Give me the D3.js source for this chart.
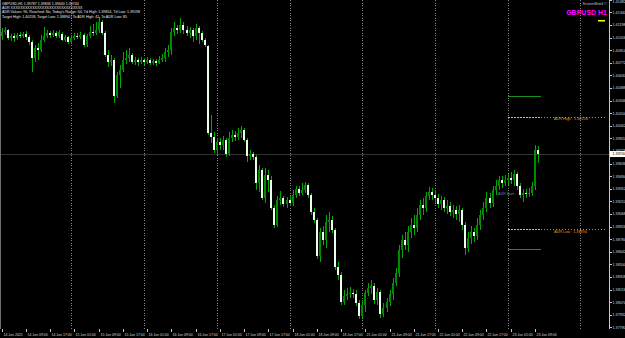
<!DOCTYPE html>
<html><head><meta charset="utf-8">
<script src="https://cdn.jsdelivr.net/npm/d3@7"></script>
<style>
html,body{margin:0;padding:0;background:#000;overflow:hidden}
svg{display:block}
text{font-family:"Liberation Sans",Arial,sans-serif}
</style>
</head><body>
<svg id="chart" width="625" height="338"></svg>
<script>
// ---------------- DATA ----------------
const symbolTitle = "GBPUSD H1";
const shotLabel = "ScreenShot4 \u00A9";
const headerLines = [
  "GBPUSD,H1  1.39787 1.39836 1.39640 1.39744",
  "ADR XXXXXXXXXXXXXXXXXXXXXXXXXXXXXX",
  "ADR Values: 96, Reached: No, Today's Range: 64, Td High: 1.39854, Td Low: 1.39198",
  "Target High: 1.40158, Target Low: 1.38894 | To ADR High: 41, To ADR Low: 85"
];
const firstBarUTC = [2021, 5, 14, 1];   // 14 Jun 2021 01:00
// open, high, low, close (hourly bars)
const ohlc = [
[1.4107,1.4116,1.4103,1.4112],[1.4112,1.4118,1.4109,1.4114],[1.4114,1.4115,1.4103,1.4105],[1.4105,1.4110,1.4102,1.4107],
[1.4107,1.4111,1.4101,1.4105],[1.4105,1.4111,1.4103,1.4109],[1.4109,1.4112,1.4105,1.4107],[1.4107,1.4112,1.4105,1.4110],
[1.4110,1.4113,1.4103,1.4106],[1.4106,1.4109,1.4097,1.4101],[1.4101,1.4103,1.4067,1.4083],[1.4083,1.4097,1.4078,1.4094],
[1.4094,1.4100,1.4080,1.4092],[1.4092,1.4109,1.4089,1.4103],[1.4103,1.4118,1.4101,1.4107],[1.4107,1.4114,1.4105,1.4111],
[1.4111,1.4113,1.4105,1.4109],[1.4109,1.4114,1.4106,1.4111],[1.4111,1.4113,1.4105,1.4107],[1.4107,1.4114,1.4105,1.4112],
[1.4110,1.4112,1.4102,1.4103],[1.4103,1.4109,1.4101,1.4106],[1.4106,1.4107,1.4098,1.4101],
[1.4101,1.4109,1.4098,1.4105],[1.4105,1.4111,1.4103,1.4107],[1.4107,1.4111,1.4104,1.4106],[1.4106,1.4112,1.4104,1.4109],
[1.4109,1.4111,1.4095,1.4097],[1.4097,1.4110,1.4095,1.4107],[1.4107,1.4119,1.4105,1.4112],[1.4112,1.4121,1.4107,1.4111],
[1.4111,1.4123,1.4109,1.4114],[1.4114,1.4129,1.4111,1.4123],[1.4123,1.4125,1.4109,1.4111],[1.4111,1.4113,1.4084,1.4086],
[1.4086,1.4092,1.4072,1.4078],[1.4078,1.4086,1.4074,1.4080],[1.4080,1.4083,1.4032,1.4040],[1.4040,1.4067,1.4038,1.4063],
[1.4063,1.4075,1.4049,1.4069],[1.4069,1.4089,1.4067,1.4080],[1.4080,1.4092,1.4076,1.4083],[1.4083,1.4094,1.4078,1.4086],
[1.4086,1.4088,1.4076,1.4078],[1.4078,1.4084,1.4075,1.4080],[1.4080,1.4083,1.4074,1.4078],[1.4078,1.4084,1.4076,1.4080],
[1.4080,1.4083,1.4075,1.4078],[1.4078,1.4084,1.4076,1.4080],[1.4080,1.4083,1.4075,1.4077],[1.4077,1.4082,1.4075,1.4079],
[1.4079,1.4082,1.4074,1.4077],[1.4077,1.4085,1.4076,1.4080],[1.4080,1.4087,1.4078,1.4083],[1.4083,1.4094,1.4078,1.4089],
[1.4089,1.4097,1.4084,1.4092],[1.4092,1.4116,1.4086,1.4112],[1.4112,1.4123,1.4107,1.4116],[1.4116,1.4120,1.4110,1.4114],
[1.4114,1.4128,1.4111,1.4120],[1.4120,1.4123,1.4110,1.4114],[1.4114,1.4119,1.4107,1.4111],[1.4111,1.4118,1.4105,1.4114],
[1.4114,1.4116,1.4101,1.4107],[1.4107,1.4121,1.4103,1.4116],[1.4116,1.4119,1.4098,1.4111],[1.4111,1.4113,1.4101,1.4103],
[1.4103,1.4105,1.4095,1.4097],[1.4096,1.4097,1.3996,1.3998],[1.3998,1.4018,1.3987,1.3994],[1.3994,1.3999,1.3976,1.3979],
[1.3979,1.3992,1.3973,1.3988],[1.3988,1.3992,1.3979,1.3985],[1.3985,1.3995,1.3979,1.3990],[1.3990,1.3992,1.3971,1.3974],
[1.3974,1.3999,1.3972,1.3992],[1.3992,1.4001,1.3988,1.3996],[1.3996,1.4000,1.3989,1.3994],[1.3994,1.4004,1.3990,1.3998],
[1.3998,1.4006,1.3992,1.4001],[1.4001,1.4004,1.3988,1.3990],[1.3990,1.3992,1.3965,1.3972],[1.3972,1.3979,1.3968,1.3974],
[1.3974,1.3977,1.3968,1.3971],[1.3971,1.3973,1.3934,1.3942],[1.3942,1.3962,1.3932,1.3956],[1.3956,1.3959,1.3923,1.3925],
[1.3925,1.3959,1.3919,1.3951],[1.3951,1.3956,1.3932,1.3945],[1.3945,1.3950,1.3911,1.3914],[1.3914,1.3917,1.3891,1.3894],
[1.3894,1.3927,1.3892,1.3923],[1.3923,1.3933,1.3917,1.3925],[1.3925,1.3927,1.3915,1.3918],[1.3918,1.3926,1.3914,1.3923],
[1.3923,1.3927,1.3916,1.3919],[1.3919,1.3934,1.3916,1.3928],[1.3928,1.3938,1.3925,1.3935],[1.3935,1.3938,1.3927,1.3930],
[1.3930,1.3942,1.3928,1.3934],[1.3934,1.3943,1.3930,1.3940],[1.3940,1.3942,1.3925,1.3928],[1.3928,1.3930,1.3906,1.3909],
[1.3909,1.3914,1.3897,1.3900],[1.3900,1.3902,1.3856,1.3860],[1.3860,1.3891,1.3853,1.3887],[1.3887,1.3893,1.3872,1.3878],
[1.3878,1.3906,1.3869,1.3898],[1.3898,1.3909,1.3887,1.3900],[1.3900,1.3905,1.3885,1.3889],[1.3889,1.3891,1.3844,1.3847],
[1.3847,1.3853,1.3832,1.3838],[1.3838,1.3841,1.3804,1.3808],[1.3808,1.3821,1.3804,1.3814],[1.3814,1.3823,1.3810,1.3817],
[1.3817,1.3825,1.3812,1.3818],[1.3818,1.3822,1.3812,1.3817],[1.3817,1.3821,1.3803,1.3807],[1.3807,1.3810,1.3789,1.3792],
[1.3792,1.3810,1.3790,1.3804],[1.3804,1.3821,1.3796,1.3818],[1.3818,1.3829,1.3814,1.3823],[1.3823,1.3832,1.3817,1.3826],
[1.3826,1.3829,1.3805,1.3810],[1.3810,1.3823,1.3804,1.3819],[1.3819,1.3821,1.3790,1.3794],[1.3794,1.3807,1.3791,1.3801],
[1.3801,1.3812,1.3796,1.3808],[1.3808,1.3821,1.3803,1.3817],[1.3817,1.3835,1.3810,1.3829],[1.3829,1.3846,1.3826,1.3840],
[1.3840,1.3872,1.3836,1.3866],[1.3866,1.3883,1.3857,1.3878],[1.3878,1.3887,1.3866,1.3872],[1.3872,1.3893,1.3864,1.3887],
[1.3887,1.3902,1.3880,1.3894],[1.3894,1.3906,1.3883,1.3891],[1.3891,1.3914,1.3887,1.3906],[1.3906,1.3923,1.3900,1.3917],
[1.3917,1.3925,1.3906,1.3914],[1.3914,1.3932,1.3909,1.3927],[1.3927,1.3937,1.3923,1.3932],[1.3932,1.3936,1.3923,1.3928],
[1.3928,1.3934,1.3919,1.3925],[1.3925,1.3929,1.3914,1.3918],[1.3918,1.3927,1.3911,1.3923],[1.3923,1.3926,1.3909,1.3914],
[1.3914,1.3923,1.3907,1.3916],[1.3916,1.3920,1.3905,1.3909],[1.3909,1.3917,1.3902,1.3911],[1.3911,1.3916,1.3900,1.3907],
[1.3907,1.3917,1.3898,1.3911],[1.3911,1.3914,1.3889,1.3894],[1.3894,1.3898,1.3861,1.3869],[1.3869,1.3887,1.3864,1.3880],
[1.3880,1.3893,1.3873,1.3887],[1.3887,1.3891,1.3875,1.3882],[1.3882,1.3902,1.3878,1.3894],[1.3894,1.3911,1.3889,1.3906],
[1.3906,1.3920,1.3900,1.3914],[1.3914,1.3932,1.3909,1.3925],[1.3925,1.3930,1.3914,1.3919],[1.3919,1.3938,1.3915,1.3934],
[1.3934,1.3945,1.3928,1.3938],[1.3938,1.3950,1.3934,1.3945],[1.3945,1.3950,1.3936,1.3942],[1.3942,1.3951,1.3938,1.3945],
[1.3945,1.3952,1.3940,1.3947],[1.3947,1.3954,1.3941,1.3945],[1.3945,1.3956,1.3938,1.3952],[1.3952,1.3954,1.3934,1.3938],
[1.3938,1.3942,1.3925,1.3928],[1.3928,1.3935,1.3920,1.3930],[1.3930,1.3935,1.3925,1.3929],[1.3929,1.3936,1.3926,1.3930],
[1.3930,1.3943,1.3927,1.3938],[1.3938,1.3985,1.3934,1.3979],[1.39787,1.39836,1.39640,1.39744]
];
const priceTicks = ["1.37790","1.37932","1.38074","1.38216","1.38358","1.38500","1.38642","1.38784","1.38926",
  "1.39068","1.39210","1.39352","1.39494","1.39636","1.39778","1.39920","1.40062","1.40204","1.40346",
  "1.40488","1.40630","1.40772","1.40914","1.41056","1.41198","1.41340","1.41482"];
const timeTicks = ["14 Jun 2021","14 Jun 09:00","14 Jun 17:00","15 Jun 01:00","15 Jun 09:00","15 Jun 17:00",
  "16 Jun 01:00","16 Jun 09:00","16 Jun 17:00","17 Jun 01:00","17 Jun 09:00","17 Jun 17:00","18 Jun 01:00",
  "18 Jun 09:00","18 Jun 17:00","21 Jun 01:00","21 Jun 09:00","21 Jun 17:00","22 Jun 01:00","22 Jun 09:00",
  "22 Jun 17:00","23 Jun 01:00","23 Jun 09:00"];
const daySeparators = ["15 Jun 00:00","16 Jun 00:00","17 Jun 00:00","18 Jun 00:00","21 Jun 00:00",
  "22 Jun 00:00","23 Jun 00:00","24 Jun 00:00"];
const currentPrice = 1.39744;
const adrDayStart = "23 Jun 00:00";
const adrHigh = 1.40158, adrLow = 1.38894;
const adrOuterHigh = 1.40400, adrOuterLow = 1.38670;
const adrHighText = "ADR High : 1.40158", adrLowText = "ADR Low : 1.38894", adrStartText = "ADR Start";

// ---------------- CHART ----------------
const W = 625, H = 338, plotR = 609, plotB = 328.5;
const svg = d3.select("#chart");
svg.append("rect").attr("width", W).attr("height", H).attr("fill", "#000");

// bar times (trading hours, weekends skipped) -> category index
const fmt = d3.utcFormat("%d %b %H:%M");
const barTimes = [];
let t = new Date(Date.UTC(...firstBarUTC));
while (barTimes.length < ohlc.length + 30) {
  const wd = t.getUTCDay();
  if (wd !== 0 && wd !== 6) barTimes.push(fmt(t));
  t = d3.utcHour.offset(t, 1);
}
const idxOf = s => barTimes.indexOf(s);

const x = d3.scaleLinear().domain([0, ohlc.length - 1]).range([1.7, 538]);
const y = d3.scaleLinear().domain([1.3779, 1.4148]).range([327.4, 0]);
const px = i => Math.round(x(i));

const g = svg.append("g").attr("shape-rendering", "crispEdges");

// day separators (dotted)
g.selectAll("line.sep").data(daySeparators).enter().append("line")
  .attr("x1", d => px(idxOf(d)) + 0.5).attr("x2", d => px(idxOf(d)) + 0.5)
  .attr("y1", 0).attr("y2", plotB)
  .attr("stroke", "#858585").attr("stroke-width", 1).attr("stroke-dasharray", "1,1.5");

// bid line
g.append("line").attr("x1", 0).attr("x2", plotR).attr("y1", Math.round(y(currentPrice)) + 0.5)
  .attr("y2", Math.round(y(currentPrice)) + 0.5).attr("stroke", "#333333");

// candles
const wickCol = "#00a800", bullCol = "#008c00", bearCol = "#eaffea";
const cg = g.append("g");
cg.selectAll("rect.wick").data(ohlc).enter().append("rect")
  .attr("x", (d, i) => px(i)).attr("width", 1)
  .attr("y", d => Math.round(y(d[1])))
  .attr("height", d => Math.max(1, Math.round(y(d[2])) - Math.round(y(d[1]))))
  .attr("fill", wickCol);
cg.selectAll("rect.body").data(ohlc).enter().append("rect")
  .attr("x", (d, i) => px(i) - 1).attr("width", 2)
  .attr("y", d => Math.round(y(Math.max(d[0], d[3]))))
  .attr("height", d => Math.max(1, Math.round(y(Math.min(d[0], d[3]))) - Math.round(y(Math.max(d[0], d[3])))))
  .attr("fill", d => d[3] >= d[0] ? bullCol : bearCol);

// ADR levels
const ds = px(idxOf(adrDayStart)), de = px(ohlc.length) ;
[adrOuterHigh, adrOuterLow].forEach(p => {
  g.append("line").attr("x1", ds).attr("x2", de).attr("y1", Math.round(y(p)) + 0.5).attr("y2", Math.round(y(p)) + 0.5)
    .attr("stroke", "#1e8c1e");
});
[adrHigh, adrLow].forEach(p => {
  const yy = Math.round(y(p)) + 0.5;
  g.append("line").attr("x1", ds).attr("x2", de).attr("y1", yy).attr("y2", yy)
    .attr("stroke", "#a8d878").attr("stroke-dasharray", "2,1");
  g.append("line").attr("x1", de).attr("x2", 606).attr("y1", yy).attr("y2", yy)
    .attr("stroke", "#d08a10").attr("stroke-dasharray", "1,2");
});
svg.append("text").attr("x", 554).attr("y", y(adrHigh) + 3).attr("font-size", 3.8).attr("fill", "#e09a20").text(adrHighText);
svg.append("text").attr("x", 554).attr("y", y(adrLow) + 3.3).attr("font-size", 3.8).attr("fill", "#e09a20").text(adrLowText);
svg.append("text").attr("x", 498).attr("y", 194.5).attr("font-size", 3.6).attr("fill", "#6f8fa0").text(adrStartText);

// frame (price-axis line and left edge)
g.append("line").attr("x1", plotR + 0.5).attr("x2", plotR + 0.5).attr("y1", 0).attr("y2", plotB).attr("stroke", "#c8c8c8");
g.append("line").attr("x1", 0.5).attr("x2", 0.5).attr("y1", 0).attr("y2", plotB).attr("stroke", "#707070");

// price axis
const pa = svg.append("g");
pa.selectAll("line").data(priceTicks).enter().append("line")
  .attr("x1", plotR).attr("x2", plotR + 3)
  .attr("y1", d => Math.round(y(+d)) + 0.5).attr("y2", d => Math.round(y(+d)) + 0.5)
  .attr("stroke", "#c8c8c8").attr("shape-rendering", "crispEdges");
pa.selectAll("text").data(priceTicks).enter().append("text")
  .attr("x", plotR + 3.5).attr("y", d => Math.max(3.2, y(+d) + 1.4))
  .attr("font-size", 3.7).attr("fill", "#d8d8d8").text(d => d);
// current price box
const cy = y(currentPrice);
svg.append("rect").attr("x", plotR + 1).attr("y", cy - 3).attr("width", W - plotR - 1).attr("height", 6).attr("fill", "#ffffff");
svg.append("text").attr("x", plotR + 3.5).attr("y", cy + 1.4).attr("font-size", 3.7).attr("fill", "#000").text(currentPrice.toFixed(5));

// time axis
const ta = svg.append("g");
const tIdx = s => /\d{4}$/.test(s) ? 0 : idxOf(s);
ta.selectAll("line").data(timeTicks).enter().append("line")
  .attr("x1", d => px(tIdx(d)) + 0.5).attr("x2", d => px(tIdx(d)) + 0.5)
  .attr("y1", plotB).attr("y2", plotB + 3.5).attr("stroke", "#c8c8c8").attr("shape-rendering", "crispEdges");
ta.selectAll("text").data(timeTicks).enter().append("text")
  .attr("x", d => px(tIdx(d)) + 1.5).attr("y", 335.5)
  .attr("font-size", 3.5).attr("fill", "#d8d8d8").text(d => d);

// header
svg.selectAll("text.hdr").data(headerLines).enter().append("text")
  .attr("x", 2).attr("y", (d, i) => [4.8, 9.0, 13.3, 17.6][i])
  .attr("font-size", 3.6).attr("fill", "#e8e8e8").text(d => d);

// top-right labels
svg.append("text").attr("x", 607).attr("y", 4.8).attr("text-anchor", "end").attr("font-size", 3.6)
  .attr("fill", "#c8c8c8").text(shotLabel);
svg.append("text").attr("x", 607).attr("y", 15).attr("text-anchor", "end").attr("font-size", 7)
  .attr("font-weight", "bold").attr("fill", "#ff00ff").text(symbolTitle);
svg.append("rect").attr("x", 598).attr("y", 20).attr("width", 7).attr("height", 1.5).attr("fill", "#ffff00");
</script>
</body></html>
